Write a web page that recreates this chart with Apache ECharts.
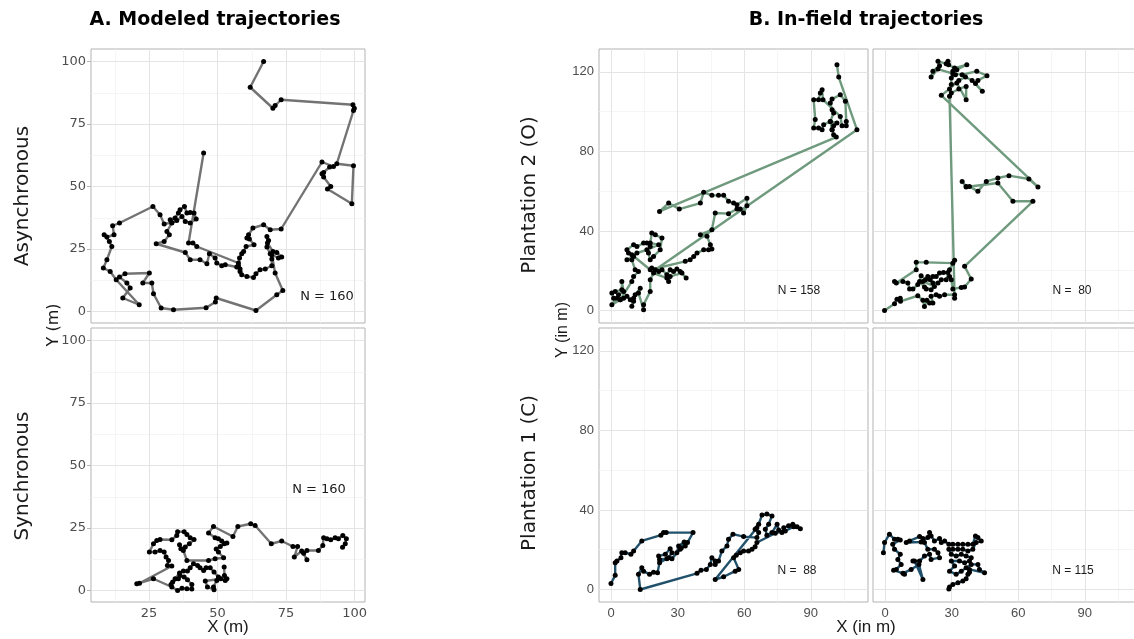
<!DOCTYPE html>
<html>
<head>
<meta charset="utf-8">
<script src="https://cdn.jsdelivr.net/npm/echarts@6/dist/echarts.min.js"></script>
<style>
  html, body { margin: 0; padding: 0; background: #ffffff; }
  #chart { width: 1134px; height: 639px; }
</style>
</head>
<body>
<div id="chart"></div>
<script>
// ---- tick values ----
const xTicksModeled = [25, 50, 75, 100];
const yTicksModeled = [0, 25, 50, 75, 100];
const xMinorModeled = [12.5, 37.5, 62.5, 87.5];
const yMinorModeled = [12.5, 37.5, 62.5, 87.5];
const xTicksField = [0, 30, 60, 90];
const yTicksField = [0, 40, 80, 120];
const xMinorField = [15, 45, 75, 105];
const yMinorField = [20, 60, 100];

// ---- trajectories: [x, y] in metres, in visiting order ----
const modeledAsync = [
  [66.8,100.0],[61.9,89.7],[70.2,81.3],[71.0,82.4],[73.2,84.7],[99.4,82.7],[99.9,81.3],[99.6,80.4],
  [93.5,59.1],[99.6,58.3],[99.0,43.1],[90.1,49.0],[91.3,50.0],[88.7,53.8],[88.1,55.1],[88.7,55.6],
  [90.9,57.8],[92.3,58.0],[88.1,59.8],[73.2,33.0],[69.2,32.7],[66.8,34.7],[62.9,33.4],[61.3,30.7],
  [60.7,29.4],[61.6,29.0],[63.3,26.7],[60.4,26.0],[59.5,24.0],[58.8,23.1],[58.0,21.4],[57.6,18.3],
  [58.2,16.0],[58.8,14.7],[60.7,14.0],[63.1,13.6],[64.0,15.1],[65.5,16.7],[67.4,17.0],[69.8,18.3],
  [69.8,21.0],[69.2,23.1],[68.0,25.8],[68.6,28.4],[68.0,30.0],[68.2,27.4],[70.2,24.0],[71.6,23.6],
  [73.4,21.8],[72.2,21.4],[69.8,22.7],[71.0,15.4],[73.8,8.4],[71.6,6.7],[64.0,0.4],[49.5,5.4],
  [49.2,3.8],[45.8,1.5],[33.9,0.7],[29.4,1.4],[26.6,7.1],[26.0,11.4],[22.7,11.4],[25.1,15.4],
  [16.2,15.1],[14.2,13.8],[16.9,11.4],[18.1,9.4],[15.4,5.4],[21.4,2.7],[13.0,12.7],[10.8,16.0],
  [8.3,17.4],[9.6,20.7],[11.4,26.0],[10.5,28.0],[8.6,30.7],[9.6,29.8],[12.2,30.7],[11.7,34.3],
  [14.2,35.4],[26.4,42.0],[29.0,38.7],[30.5,35.0],[33.3,35.6],[32.7,36.7],[34.5,37.4],[35.7,39.4],
  [36.3,40.7],[37.9,42.0],[38.8,39.4],[40.0,39.6],[41.4,39.4],[42.2,37.0],[40.0,35.4],[38.2,36.0],
  [37.0,38.0],[35.1,36.4],[33.3,35.4],[31.5,32.0],[32.4,30.7],[30.5,28.0],[27.6,27.1],[38.2,23.6],
  [40.0,20.7],[43.6,20.7],[46.1,19.1],[47.0,23.1],[49.1,21.4],[49.7,19.4],[51.5,18.3],[52.8,18.7],
  [57.0,17.8],[58.2,17.0],[57.6,19.4],[42.4,26.0],[41.0,27.4],[39.4,27.4],[44.9,63.4]
];

const modeledSync = [
  [95.6,17.3],[96.6,18.7],[97.0,20.7],[95.7,22.0],[94.1,20.7],[92.9,21.1],[91.3,20.3],[89.9,20.7],
  [88.7,21.1],[88.4,18.0],[86.8,16.0],[82.6,16.0],[81.4,14.9],[82.6,12.3],[80.7,15.8],[78.0,13.4],
  [79.2,17.6],[77.5,17.6],[73.4,19.8],[69.6,18.7],[63.7,26.0],[62.1,26.7],[57.4,25.6],[55.6,21.6],
  [48.5,25.6],[46.7,23.0],[49.1,21.1],[50.3,20.7],[51.5,19.8],[53.4,19.0],[52.4,18.7],[51.0,17.6],
  [49.5,16.6],[50.3,15.4],[52.2,13.1],[49.1,12.7],[46.7,12.0],[38.8,12.0],[37.5,16.0],[36.1,18.3],
  [36.6,16.7],[38.2,17.4],[39.7,18.7],[41.4,20.4],[40.0,21.1],[38.8,22.4],[37.8,23.5],[35.4,23.5],
  [35.1,22.0],[33.3,20.3],[29.0,20.4],[27.8,20.0],[26.6,18.7],[25.1,15.4],[27.2,15.4],[29.0,16.0],
  [30.5,15.4],[31.2,13.4],[32.1,12.0],[31.7,10.0],[33.3,9.8],[21.5,2.9],[20.5,2.7],[26.6,4.7],
  [33.3,1.4],[35.4,0.0],[37.0,0.9],[38.8,0.7],[40.6,0.6],[40.6,2.4],[39.0,4.3],[37.8,5.4],
  [36.3,6.0],[35.7,4.7],[33.6,3.4],[33.0,2.4],[34.5,4.7],[36.1,7.0],[37.5,7.8],[39.0,7.8],
  [40.0,9.1],[41.2,10.7],[42.7,10.0],[43.6,9.1],[44.9,8.0],[45.8,9.1],[47.3,9.1],[48.7,7.4],
  [50.3,5.4],[49.7,4.0],[48.5,1.4],[48.7,0.3],[46.3,1.4],[45.5,3.8],[51.2,4.7],[52.8,4.0],
  [53.4,4.7],[52.5,6.0],[52.4,9.4]
];

const plantation2Left = [
  [101.8,123.6],[102.6,117.4],[110.8,90.9],[19.9,20.5],[18.3,21.3],[21.4,19.6],[22.9,20.5],[25.1,18.0],
  [26.6,20.5],[28.1,19.6],[29.6,20.8],[31.1,19.6],[33.8,16.3],[31.9,18.8],[26.6,17.1],[25.9,14.6],
  [25.1,16.3],[19.1,18.8],[17.6,15.5],[17.6,9.6],[14.6,2.9],[14.6,0.4],[12.3,8.8],[13.1,11.2],
  [10.8,7.9],[10.1,6.2],[9.3,2.1],[10.1,4.6],[8.6,5.4],[7.1,7.1],[5.6,6.2],[4.1,5.4],
  [2.6,6.2],[1.1,6.2],[0.3,8.8],[1.8,9.6],[4.8,10.4],[4.8,14.6],[5.6,9.6],[3.3,7.9],
  [0.3,2.9],[4.1,5.4],[9.3,14.6],[10.1,17.1],[12.3,19.6],[10.8,20.5],[9.3,25.5],[7.1,25.5],
  [10.1,27.2],[7.8,28.9],[7.1,30.5],[10.1,33.1],[11.6,32.2],[14.6,33.9],[16.1,33.9],[17.6,32.2],
  [16.8,28.9],[17.6,25.5],[19.1,27.2],[22.1,30.5],[22.9,36.4],[19.9,38.1],[18.3,38.9],[17.6,33.9],
  [21.4,33.1],[16.1,30.5],[11.6,28.9],[9.3,28.0],[17.6,20.5],[33.4,24.7],[35.6,25.5],[37.2,27.2],
  [38.7,28.9],[41.7,30.5],[43.9,30.5],[45.4,30.9],[44.7,33.1],[43.2,37.3],[40.2,38.1],[45.4,40.6],
  [46.9,49.0],[52.9,48.7],[56.7,51.0],[58.2,51.0],[59.7,49.0],[61.2,52.7],[61.2,56.5],[56.7,53.2],
  [55.2,54.0],[52.9,54.9],[50.7,57.9],[48.4,57.9],[45.4,57.9],[41.7,59.4],[40.2,54.0],[30.7,51.0],
  [25.9,54.0],[21.8,49.8],[101.5,87.2],[100.3,88.4],[99.6,90.9],[100.3,92.9],[101.8,94.3],[98.8,95.1],
  [100.3,99.3],[99.6,101.0],[98.8,104.3],[99.6,106.3],[103.3,108.5],[105.6,105.2],[106.0,95.1],[106.0,92.9],
  [104.1,92.9],[103.3,97.6],[95.5,106.0],[95.1,111.0],[94.3,109.4],[93.5,106.0],[91.3,106.0],[92.0,96.0],
  [91.3,91.8],[93.5,91.8],[95.1,90.9],[95.8,93.4],[98.8,95.1],[99.6,90.9]
];

const plantation2Right = [
  [-0.3,0.0],[4.2,3.4],[5.3,5.7],[6.8,6.2],[6.9,4.6],[14.7,7.4],[17.0,5.1],[17.7,2.0],
  [18.8,5.1],[20.0,3.7],[21.5,3.7],[20.7,7.1],[23.0,7.9],[24.5,7.1],[26.8,7.9],[31.3,7.9],
  [31.3,6.2],[29.0,107.7],[29.8,109.4],[33.2,111.4],[36.5,112.7],[36.5,106.0],[32.3,114.4],[29.8,113.6],
  [29.8,116.9],[31.7,118.6],[30.5,120.3],[32.3,121.1],[36.8,123.6],[31.3,121.9],[28.6,123.6],[28.3,125.3],
  [27.5,124.1],[23.8,125.3],[24.5,123.1],[21.5,120.3],[20.7,117.4],[23.8,121.4],[30.5,119.1],[34.7,118.6],
  [41.3,120.3],[45.9,118.1],[41.8,115.7],[40.7,114.1],[43.8,110.2],[39.2,115.7],[36.2,117.4],[33.2,115.7],
  [29.0,111.4],[25.3,108.2],[68.9,62.1],[64.8,66.1],[55.8,67.8],[50.8,66.6],[45.6,64.9],[41.8,59.9],
  [38.0,62.4],[36.5,62.4],[34.7,64.9],[36.5,62.1],[50.8,64.1],[57.6,54.9],[66.6,54.9],[35.8,22.2],
  [38.8,15.8],[35.8,11.8],[34.3,11.6],[30.5,10.8],[29.8,15.5],[29.0,17.1],[28.3,19.1],[26.3,19.1],
  [24.5,18.8],[23.0,17.1],[21.5,17.1],[19.2,17.1],[18.2,15.5],[16.2,17.5],[15.5,14.6],[17.7,11.8],
  [18.5,10.8],[20.7,10.4],[22.2,12.1],[17.0,14.6],[14.7,13.0],[12.5,10.8],[11.0,10.8],[10.2,13.8],
  [8.0,14.6],[5.0,13.8],[4.2,14.6],[14.0,20.5],[14.0,24.2],[18.5,24.2],[30.5,23.8],[31.3,25.2],
  [29.0,20.5],[27.5,15.5],[25.3,15.5],[23.8,13.8],[21.5,13.8],[20.3,15.5]
];

const plantation1Left = [
  [-0.1,3.0],[1.8,7.1],[1.8,13.5],[2.6,14.3],[4.4,16.0],[4.8,18.5],[6.3,18.5],[8.9,17.7],
  [10.1,19.3],[13.8,24.4],[22.4,27.3],[23.6,28.6],[24.8,28.6],[36.9,28.6],[34.4,23.6],[33.4,21.9],
  [31.6,20.9],[29.6,18.5],[30.4,21.9],[32.9,23.9],[31.1,20.2],[27.4,15.5],[25.1,15.5],[21.8,15.1],
  [21.4,16.8],[24.4,17.7],[26.6,20.5],[27.4,18.5],[25.9,16.0],[21.8,13.5],[20.9,8.4],[19.1,8.7],
  [17.3,7.6],[14.6,9.2],[13.8,10.9],[12.3,7.6],[13.1,0.0],[38.7,8.1],[40.5,9.7],[42.9,10.1],
  [44.7,12.6],[45.4,16.0],[46.9,14.3],[46.9,12.6],[48.4,14.3],[49.9,19.3],[52.2,21.9],[52.9,25.2],
  [54.9,27.8],[59.7,26.6],[65.7,26.1],[66.5,28.6],[64.9,30.3],[66.5,32.8],[68.0,37.4],[70.2,37.9],
  [72.5,37.0],[71.0,32.8],[69.5,30.3],[70.2,27.3],[72.5,28.6],[74.8,32.8],[75.5,29.9],[77.0,28.6],
  [77.8,31.1],[80.0,32.0],[81.9,32.8],[83.8,31.6],[85.3,30.6],[82.3,31.6],[78.5,29.4],[74.0,28.3],
  [65.7,23.6],[64.9,21.5],[63.5,20.2],[61.9,19.3],[59.7,19.3],[58.2,18.5],[56.4,17.2],[55.2,16.0],
  [57.5,10.1],[55.9,9.2],[50.7,6.4],[46.9,5.0],[65.7,31.1]
];

const plantation1Right = [
  [-0.8,18.5],[-0.3,23.6],[1.9,27.8],[4.2,25.2],[5.7,25.2],[6.8,24.9],[3.4,22.7],[4.2,20.2],
  [6.8,17.7],[5.7,15.1],[7.2,12.6],[5.0,10.1],[3.8,9.7],[8.0,8.1],[8.7,7.6],[11.7,10.1],
  [15.2,12.6],[17.0,5.0],[13.2,14.3],[12.5,14.3],[15.5,14.3],[17.7,16.8],[20.0,17.7],[20.7,15.1],
  [24.5,16.0],[23.8,18.5],[22.2,20.2],[19.2,20.2],[17.7,23.6],[17.0,25.6],[15.5,26.6],[11.0,24.4],
  [9.5,23.6],[16.2,23.9],[19.2,26.1],[20.0,28.6],[20.7,26.9],[22.2,24.4],[24.5,25.6],[25.3,23.6],
  [26.8,24.4],[28.7,22.7],[30.5,22.7],[32.8,22.7],[35.0,22.7],[37.3,22.7],[39.5,22.7],[40.7,26.9],
  [41.8,26.1],[43.3,24.4],[41.0,23.6],[39.5,20.2],[37.3,19.3],[35.0,20.2],[32.8,20.2],[30.5,20.2],
  [28.7,20.2],[29.8,17.7],[32.0,16.8],[34.3,17.7],[36.5,16.8],[38.8,16.0],[38.0,14.3],[35.8,13.5],
  [33.5,14.3],[29.8,14.3],[31.3,11.8],[29.0,9.2],[32.0,7.6],[34.3,9.2],[36.5,10.9],[38.8,12.6],
  [41.8,12.6],[42.5,10.1],[44.8,8.4],[38.0,10.1],[38.0,8.7],[37.3,7.6],[36.5,5.4],[35.0,4.2],
  [32.8,3.4],[30.5,2.5],[29.0,1.3],[28.7,0.3]
];

// ---- panel layout ----
const GRID_MAJOR = '#e4e4e4';
const GRID_MINOR = '#f2f2f2';
const BORDER = '#b3b3b3';
const TICK_TEXT = '#4d4d4d';

const panels = [
  { rect: { left: 91,  top: 49,  width: 274, height: 274 }, x: [3.8, 103.8], y: [-4.6, 105],
    xt: xTicksModeled, yt: yTicksModeled, xm: xMinorModeled, ym: yMinorModeled,
    showX: false, showY: true, data: modeledAsync, color: '#737373' },
  { rect: { left: 91,  top: 328, width: 274, height: 274 }, x: [3.8, 103.8], y: [-4.6, 105],
    xt: xTicksModeled, yt: yTicksModeled, xm: xMinorModeled, ym: yMinorModeled,
    showX: true, showY: true, data: modeledSync, color: '#737373' },
  { rect: { left: 599, top: 49,  width: 269, height: 274 }, x: [-5.5, 115.8], y: [-6.3, 131.5],
    xt: xTicksField, yt: yTicksField, xm: xMinorField, ym: yMinorField,
    showX: false, showY: true, data: plantation2Left, color: '#6f9a7e' },
  { rect: { left: 873, top: 49,  width: 269, height: 274 }, x: [-5.5, 115.8], y: [-6.3, 131.5],
    xt: xTicksField, yt: yTicksField, xm: xMinorField, ym: yMinorField,
    showX: false, showY: false, data: plantation2Right, color: '#6f9a7e' },
  { rect: { left: 599, top: 328, width: 269, height: 274 }, x: [-5.5, 115.8], y: [-6.3, 131.5],
    xt: xTicksField, yt: yTicksField, xm: xMinorField, ym: yMinorField,
    showX: true, showY: true, data: plantation1Left, color: '#21506b' },
  { rect: { left: 873, top: 328, width: 269, height: 274 }, x: [-5.5, 115.8], y: [-6.3, 131.5],
    xt: xTicksField, yt: yTicksField, xm: xMinorField, ym: yMinorField,
    showX: true, showY: false, data: plantation1Right, color: '#21506b' }
];

const grids = [], xAxes = [], yAxes = [], series = [];

panels.forEach((p, i) => {
  grids.push(Object.assign({ show: true, borderColor: BORDER, borderWidth: 1,
                             backgroundColor: '#ffffff', containLabel: false,
                             outerBoundsMode: 'none' }, p.rect));
  const axisCommon = {
    gridIndex: i, type: 'value',
    axisLine: { show: false },
    splitLine: { show: false },
    minorSplitLine: { show: false }
  };
  xAxes.push(Object.assign({}, axisCommon, {
    min: p.x[0], max: p.x[1],
    axisTick: { show: p.showX, customValues: p.xt, length: 4, lineStyle: { color: BORDER } },
    axisLabel: { show: p.showX, customValues: p.xt, color: TICK_TEXT, fontSize: 13,
                 fontFamily: p.xt === xTicksModeled ? 'DejaVu Sans' : 'Liberation Sans', margin: 5 }
  }));
  yAxes.push(Object.assign({}, axisCommon, {
    min: p.y[0], max: p.y[1],
    axisTick: { show: p.showY, customValues: p.yt, length: 4, lineStyle: { color: BORDER } },
    axisLabel: { show: p.showY, customValues: p.yt, color: TICK_TEXT, fontSize: 13,
                 fontFamily: p.yt === yTicksModeled ? 'DejaVu Sans' : 'Liberation Sans', margin: 5 }
  }));

  // background grid lines, drawn through the panel's own scales, kept under the paths
  const minor = { color: GRID_MINOR, width: 0.8, type: 'solid' };
  const major = { color: GRID_MAJOR, width: 1, type: 'solid' };
  const lines = [];
  p.xm.forEach(v => lines.push({ xAxis: v, lineStyle: minor }));
  p.ym.forEach(v => lines.push({ yAxis: v, lineStyle: minor }));
  p.xt.forEach(v => lines.push({ xAxis: v, lineStyle: major }));
  p.yt.forEach(v => lines.push({ yAxis: v, lineStyle: major }));
  series.push({
    type: 'line', xAxisIndex: i, yAxisIndex: i, data: [], z: 1, silent: true,
    markLine: { silent: true, z: 1, symbol: 'none', label: { show: false },
                lineStyle: { type: 'solid' }, emphasis: { disabled: true },
                animation: false, data: lines }
  });

  // the trajectory itself
  series.push({
    type: 'line', xAxisIndex: i, yAxisIndex: i, data: p.data, z: 6,
    symbol: 'circle', symbolSize: 5, showSymbol: true, showAllSymbol: true,
    itemStyle: { color: '#000000', borderWidth: 0, borderColor: '#000000' },
    lineStyle: { color: p.color, width: 2.4 },
    emphasis: { disabled: true },
    animation: false
  });
});

// ---- titles, strip labels, axis titles, counts ----
const txt = (text, x, y, size, opts = {}) => ({
  type: 'text', x: x, y: y, rotation: opts.rot || 0, z: 10,
  style: { text: text, fontSize: size, fontFamily: opts.font || 'DejaVu Sans',
           fontWeight: opts.weight || 'normal', fill: opts.color || '#1a1a1a',
           align: 'center', verticalAlign: 'middle' }
});
const R = Math.PI / 2;

const graphics = [
  txt('A. Modeled trajectories', 215, 20, 19, { weight: 'bold', color: '#000' }),
  txt('B. In-field trajectories', 866, 20, 19, { weight: 'bold', color: '#000' }),
  txt('Asynchronous', 23, 196, 20, { rot: R }),
  txt('Synchronous', 23, 476, 20, { rot: R }),
  txt('Y (m)', 54, 325, 16, { rot: R }),
  txt('X (m)', 228, 627, 17, { font: 'Liberation Sans' }),
  txt('Plantation 2 (O)', 530, 195, 20, { rot: R }),
  txt('Plantation 1 (C)', 530, 473, 20, { rot: R }),
  txt('Y (in m)', 563, 330, 16, { rot: R, font: 'Liberation Sans' }),
  txt('X (in m)', 866, 627, 17, { font: 'Liberation Sans' }),
  txt('N = 160', 327, 297, 13),
  txt('N = 160', 319, 490, 13),
  txt('N = 158', 799, 291, 12, { font: 'Liberation Sans' }),
  txt('N =  80', 1072, 291, 12, { font: 'Liberation Sans' }),
  txt('N =  88', 797, 571, 12, { font: 'Liberation Sans' }),
  txt('N = 115', 1073, 571, 12, { font: 'Liberation Sans' })
];

const chart = echarts.init(document.getElementById('chart'), null, { renderer: 'canvas' });
chart.setOption({
  animation: false,
  backgroundColor: '#ffffff',
  grid: grids,
  xAxis: xAxes,
  yAxis: yAxes,
  series: series,
  graphic: graphics
});
</script>
</body>
</html>
